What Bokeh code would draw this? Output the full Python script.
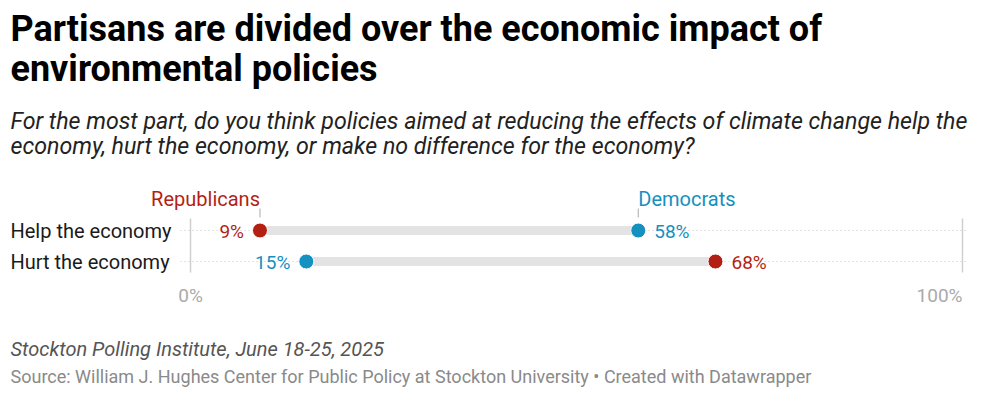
from bokeh.plotting import figure
from bokeh.models import Range1d, ColumnDataSource
from bokeh.core.properties import value
from bokeh.embed import file_html
from bokeh.resources import INLINE

# ---- data ----
categories = ["Help the economy", "Hurt the economy"]
republicans = [9, 68]
democrats = [58, 15]
tick_labels = ["0%", "100%"]
tick_values = [0, 100]

title_lines = ["Partisans are divided over the economic impact of", "environmental policies"]
subtitle_lines = [
    "For the most part, do you think policies aimed at reducing the effects of climate change help the",
    "economy, hurt the economy, or make no difference for the economy?",
]
note_text = "Stockton Polling Institute, June 18-25, 2025"
source_text = "Source: William J. Hughes Center for Public Policy at Stockton University \u2022 Created with Datawrapper"

RED = "#b41f13"
BLUE = "#1490c1"
FONT = "Roboto"

W, H = 984, 392
X0_PAGE, X100_PAGE = 190, 962
SCALE = (X100_PAGE - X0_PAGE) / 100.0
left = -X0_PAGE / SCALE
right = 100 + (W - X100_PAGE) / SCALE


def px(xpage):
    return (xpage - X0_PAGE) / SCALE


p = figure(width=W, height=H, output_backend="svg", toolbar_location=None,
           x_range=Range1d(left, right), y_range=Range1d(H, 0),
           min_border=0, outline_line_color=None)
p.axis.visible = False
p.grid.visible = False
p.background_fill_color = "white"
p.border_fill_color = "white"

row_y = [230, 261]
off = 16 / SCALE

# titles
p.text(x=[px(10)] * 2, y=[28, 68], text=title_lines, text_font=value(FONT),
       text_font_size="36px", text_font_style="bold", text_color="#000000",
       text_baseline="middle", text_align="left")
p.text(x=[px(10)] * 2, y=[120, 145], text=subtitle_lines, text_font=value(FONT),
       text_font_size="23.2px", text_font_style="italic", text_color="#222222",
       text_baseline="middle", text_align="left")

# vertical gridlines at 0% and 100%
p.segment(x0=tick_values, x1=tick_values, y0=[218] * 2, y1=[272] * 2,
          line_color="#d0d0d0", line_width=1.5)

# dotted row lines
p.segment(x0=[px(180)] * 2, x1=[px(966)] * 2, y0=row_y, y1=row_y,
          line_color="#c8c8c8", line_width=1, line_dash="1 3")

# range bars
lo = [min(a, b) for a, b in zip(republicans, democrats)]
hi = [max(a, b) for a, b in zip(republicans, democrats)]
p.segment(x0=lo, x1=hi, y0=row_y, y1=row_y, line_color="#e3e3e3", line_width=9)

# category labels
p.text(x=[px(10)] * 2, y=row_y, text=categories, text_font=value(FONT),
       text_font_size="20px", text_color="#1a1a1a", text_baseline="middle", text_align="left")

# dots
src = ColumnDataSource(dict(y=row_y, rep=republicans, dem=democrats))
p.scatter(x="rep", y="y", source=src, size=15, fill_color=RED, line_color="white", line_width=1)
p.scatter(x="dem", y="y", source=src, size=15, fill_color=BLUE, line_color="white", line_width=1)

# value labels: placed on the outside of each range
for vals, other, color in ((republicans, democrats, RED), (democrats, republicans, BLUE)):
    xs, txt, al = [], [], []
    for v, o in zip(vals, other):
        txt.append(f"{v}%")
        if v < o:
            xs.append(v - off)
            al.append("right")
        else:
            xs.append(v + off)
            al.append("left")
    p.text(x=xs, y=[y + 1 for y in row_y], text=txt, text_align=al, text_font=value(FONT),
           text_font_size="19px", text_color=color, text_baseline="middle")

# series labels above first row
p.segment(x0=[republicans[0], democrats[0]], x1=[republicans[0], democrats[0]],
          y0=[208] * 2, y1=[217] * 2, line_color="#aaaaaa", line_width=1)
p.text(x=[republicans[0]], y=[198], text=["Republicans"], text_align="right",
       text_font=value(FONT), text_font_size="20px", text_color=RED, text_baseline="middle")
p.text(x=[democrats[0]], y=[198], text=["Democrats"], text_align="left",
       text_font=value(FONT), text_font_size="20px", text_color=BLUE, text_baseline="middle")

# tick labels
p.text(x=tick_values, y=[295] * 2, text=tick_labels, text_align=["center", "right"],
       text_font=value(FONT), text_font_size="19px", text_color="#aaaaaa", text_baseline="middle")

# footer
p.text(x=[px(10)], y=[348], text=[note_text], text_font=value(FONT),
       text_font_size="20px", text_font_style="italic", text_color="#555555",
       text_baseline="middle", text_align="left")
p.text(x=[px(10)], y=[376], text=[source_text], text_font=value(FONT),
       text_font_size="18px", text_color="#8a8a8a", text_baseline="middle", text_align="left")

open("out.html", "w").write(file_html(p, INLINE))
